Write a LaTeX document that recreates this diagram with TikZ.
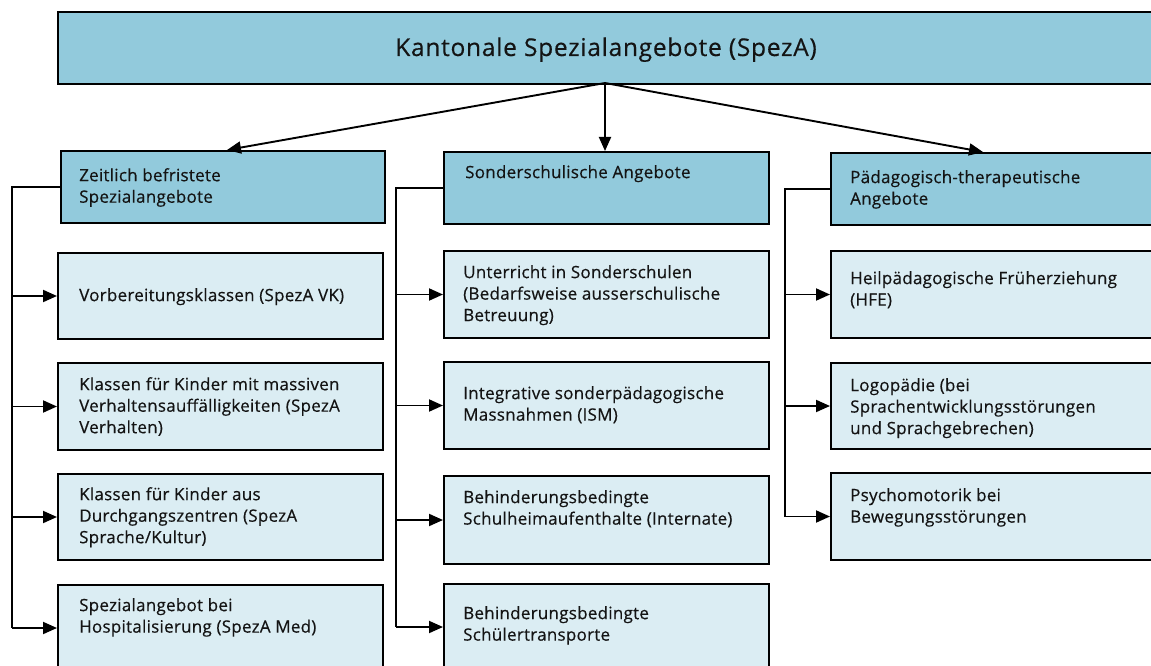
\documentclass[tikz,border=0pt]{standalone}
\usepackage{fontspec}
\setmainfont{Open Sans}
\newfontfamily\titlefont[LetterSpace=3,FakeBold=0.4]{Open Sans}
\newfontfamily\boxfont[LetterSpace=1.5,FakeBold=0.4]{Open Sans}
\usetikzlibrary{arrows.meta,calc}
\definecolor{hdrblue}{HTML}{92CADC}
\definecolor{boxblue}{HTML}{DBEDF3}
\definecolor{ink}{HTML}{141414}
\begin{document}
\begin{tikzpicture}[x=1pt,y=-1pt,
 hdr/.style={draw=black, line width=2pt, fill=hdrblue, rectangle, anchor=north west, inner sep=0pt, minimum height=72pt},
 sub/.style={draw=black, line width=2pt, fill=boxblue, rectangle, anchor=north west, inner sep=0pt, minimum width=325pt},
 lbl/.style={anchor=north west, inner sep=0pt, align=left, font=\boxfont\fontsize{17}{21.5}\selectfont, text=ink},
 conn/.style={line width=1.9pt, draw=black},
 arr/.style={conn, -{Triangle[length=14pt,width=12pt]}},
]
\clip (0,0) rectangle (1151,666);
\fill[white] (0,0) rectangle (1151,666);

% top
\node[hdr, minimum width=1103pt] (top) at (57,11) {};
\node[anchor=base, inner sep=0pt, font=\titlefont\fontsize{24.5}{28}\selectfont, text=ink] (title) at (606,56) {Kantonale Spezialangebote (SpezA)};

% headers
\node[hdr, minimum width=324pt] (lh) at (60,150) {};
\node[hdr, minimum width=325pt] (mh) at (443,151) {};
\node[hdr, minimum width=330pt] (rh) at (830,152) {};
\node[lbl] (lht) at (79,168) {Zeitlich befristete\\Spezialangebote};
\node[lbl] (mht) at (465,165) {Sonderschulische Angebote};
\node[lbl] (rht) at (850,170) {Pädagogisch-therapeutische\\Angebote};

% top arrows
\coordinate (src) at (605,83);
\coordinate (lhin) at (227,150);
\coordinate (rhin) at (983,152);
\draw[arr] (src) -- (lhin);
\draw[arr] (src) -- (src |- mh.north);
\draw[arr] (src) -- (rhin);

% left column
\node[sub, minimum height=86pt] (l1) at (57,252) {};
\node[sub, minimum height=87pt] (l2) at (57,362) {};
\node[sub, minimum height=86pt] (l3) at (57,473) {};
\node[sub, minimum height=86pt] (l4) at (57,584) {};
\node[lbl] (l1t) at (79,288) {Vorbereitungsklassen (SpezA VK)};
\node[lbl] (l2t) at (79,377) {Klassen für Kinder mit massiven\\Verhaltensauffälligkeiten (SpezA\\Verhalten)};
\node[lbl] (l3t) at (79,487) {Klassen für Kinder aus\\Durchgangszentren (SpezA\\Sprache/Kultur)};
\node[lbl] (l4t) at (79,598) {Spezialangebot bei\\Hospitalisierung (SpezA Med)};

% middle column
\node[sub, minimum height=87pt] (m1) at (443,250) {};
\node[sub, minimum height=87pt] (m2) at (443,361) {};
\node[sub, minimum height=88pt] (m3) at (443,475) {};
\node[sub, minimum height=86pt] (m4) at (443,583) {};
\node[lbl] (m1t) at (463,265) {Unterricht in Sonderschulen\\(Bedarfsweise ausserschulische\\Betreuung)};
\node[lbl] (m2t) at (463,386) {Integrative sonderpädagogische\\Massnahmen (ISM)};
\node[lbl] (m3t) at (463,490) {Behinderungsbedingte\\Schulheimaufenthalte (Internate)};
\node[lbl] (m4t) at (463,606) {Behinderungsbedingte\\Schülertransporte};

% right column
\node[sub, minimum width=330pt, minimum height=87pt] (r1) at (830,250) {};
\node[sub, minimum width=330pt, minimum height=86pt] (r2) at (830,362) {};
\node[sub, minimum width=330pt, minimum height=87pt] (r3) at (830,472) {};
\node[lbl] (r1t) at (850,271) {Heilpädagogische Früherziehung\\(HFE)};
\node[lbl] (r2t) at (850,378) {Logopädie (bei\\Sprachentwicklungsstörungen\\und Sprachgebrechen)};
\node[lbl] (r3t) at (850,488) {Psychomotorik bei\\Bewegungsstörungen};

% rails
\coordinate (lr) at (12,0);
\coordinate (mr) at (396,0);
\coordinate (rr) at (785,0);
\draw[conn] (lh.west) -- (lh.west -| lr) -- (l4.west -| lr);
\draw[conn] (mh.west) -- (mh.west -| mr) -- (m4.west -| mr);
\draw[conn] (rh.west) -- (rh.west -| rr) -- (r3.west -| rr);
\foreach \b in {l1,l2,l3,l4} \draw[arr] (\b.west -| lr) -- (\b.west);
\foreach \b in {m1,m2,m3,m4} \draw[arr] (\b.west -| mr) -- (\b.west);
\foreach \b in {r1,r2,r3} \draw[arr] (\b.west -| rr) -- (\b.west);
\end{tikzpicture}
\end{document}
